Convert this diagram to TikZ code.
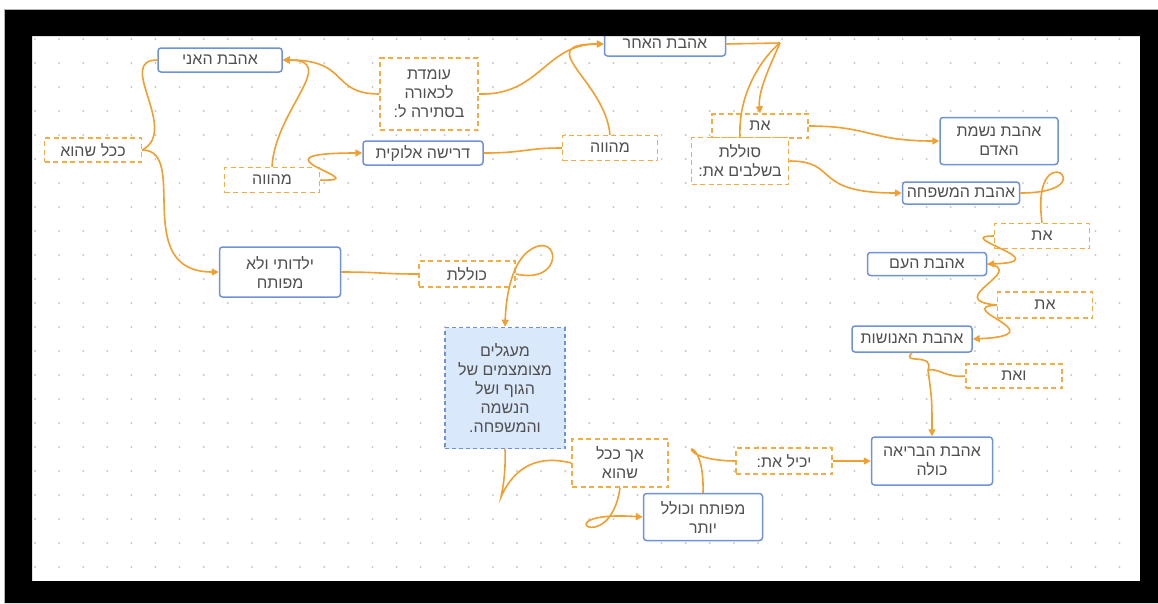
\documentclass[tikz,border=0pt]{standalone}
\usepackage{fontspec}
\newfontfamily\hebfont[Script=Hebrew]{Liberation Sans}
\TeXXeTstate=1
\usetikzlibrary{arrows.meta}
\definecolor{edgeor}{HTML}{F0A030}
\definecolor{dashor}{HTML}{F2AE45}
\definecolor{bluec}{HTML}{7093D8}
\definecolor{bluefill}{HTML}{DAE8FC}
\definecolor{txtc}{HTML}{505050}
\definecolor{dotc}{HTML}{C8C8C8}
\newcommand{\hb}[1]{\beginR #1\endR}
\begin{document}
\begin{tikzpicture}[x=1pt,y=-1pt,
  every node/.style={font=\hebfont\fontsize{16}{19}\selectfont, text=txtc, inner sep=0pt, align=center},
  bluebox/.style={draw=bluec, line width=1.5pt, rounded corners=3pt, fill=white},
  dbox/.style={draw=dashor, line width=1.5pt, dash pattern=on 5pt off 3.5pt, fill=white},
  fbox/.style={draw=bluec, line width=1.5pt, dash pattern=on 4pt off 3pt, fill=bluefill},
  conn/.style={draw=edgeor, line width=1.6pt},
  arr/.style={conn, -{Triangle[length=7pt,width=7pt]}}]
\useasboundingbox (0,0) rectangle (1158,603);
\fill[white] (0,0) rectangle (1158,603);
% dot grid
\foreach \i in {0,...,45}{\foreach \j in {0,...,22}{\fill[dotc] (35+24.1*\i,39+24*\j) circle (1.1);}}
% nodes
\node[bluebox, minimum width=124pt, minimum height=24pt] (ani) at (220,60) {\hb{אהבת האני}};
\node[dbox, minimum width=97pt, minimum height=24pt] (kkol) at (93,150) {\hb{ככל שהוא}};
\node[dbox, minimum width=95pt, minimum height=25pt] (mehave1) at (272,180) {\hb{מהווה}};
\node[dbox, minimum width=98pt, minimum height=72pt] (omedet) at (429,94) {\hb{עומדת}\\\hb{לכאורה}\\\hb{בסתירה ל:}};
\node[bluebox, minimum width=120pt, minimum height=24pt] (drisha) at (423,153) {\hb{דרישה אלוקית}};
\node[dbox, minimum width=95pt, minimum height=25pt] (mehave2) at (610,148) {\hb{מהווה}};
\node[bluebox, minimum width=121pt, minimum height=24pt] (acher) at (665,44) {\hb{אהבת האחר}};
\node[dbox, minimum width=96pt, minimum height=24pt] (et0) at (760,126) {\hb{את}};
\node[dbox, minimum width=97pt, minimum height=47pt] (solelet) at (740,161) {\hb{סוללת}\\\hb{בשלבים את:}};
\node[bluebox, minimum width=118pt, minimum height=47pt] (neshamat) at (999,141) {\hb{אהבת נשמת}\\\hb{האדם}};
\node[bluebox, minimum width=117pt, minimum height=22pt] (mishpacha) at (961,193) {\hb{אהבת המשפחה}};
\node[dbox, minimum width=95pt, minimum height=25pt] (et1) at (1042,236) {\hb{את}};
\node[bluebox, minimum width=119pt, minimum height=23pt] (am) at (927,264) {\hb{אהבת העם}};
\node[dbox, minimum width=95pt, minimum height=26pt] (et2) at (1045,305) {\hb{את}};
\node[bluebox, minimum width=120pt, minimum height=26pt] (enoshut) at (912,339) {\hb{אהבת האנושות}};
\node[dbox, minimum width=96pt, minimum height=24pt] (veet) at (1014,376) {\hb{ואת}};
\node[bluebox, minimum width=121pt, minimum height=48pt] (briah) at (932,461) {\hb{אהבת הבריאה}\\\hb{כולה}};
\node[dbox, minimum width=96pt, minimum height=26pt] (yachil) at (784,461) {\hb{יכיל את:}};
\node[bluebox, minimum width=119pt, minimum height=47pt] (mefutach) at (703,517) {\hb{מפותח וכולל}\\\hb{יותר}};
\node[dbox, minimum width=96pt, minimum height=48pt] (ach) at (620,463) {\hb{אך ככל}\\\hb{שהוא}};
\node[fbox, minimum width=120pt, minimum height=121pt] (maagalim) at (505,388) {\hb{מעגלים}\\\hb{מצומצמים של}\\\hb{הגוף ושל}\\\hb{הנשמה}\\\hb{והמשפחה.}};
\node[bluebox, minimum width=121pt, minimum height=50pt] (yaldoti) at (280,272) {\hb{ילדותי ולא}\\\hb{מפותח}};
\node[dbox, minimum width=96pt, minimum height=26pt] (kolelet) at (467,274) {\hb{כוללת}};
\coordinate (j1) at (780,43);
\coordinate (j2) at (928,370);
% connectors
\draw[conn] (ani.west) .. controls (115,60) and (180,130) .. (kkol.east);
\draw[arr] (kkol.east) .. controls (190,150) and (130,272) .. (yaldoti.west);
\draw[arr] (mehave1.north) .. controls (275,110) and (340,60) .. (ani.east);
\draw[arr] (omedet.west) .. controls (330,94) and (350,60) .. (ani.east);
\draw[arr] (mehave1.east) .. controls (380,182) and (240,153) .. (drisha.west);
\draw[conn] (drisha.east) .. controls (525,153) and (525,148) .. (mehave2.west);
\draw[arr] (mehave2.north) .. controls (605,80) and (530,44) .. (acher.west);
\draw[arr] (omedet.east) .. controls (540,96) and (545,44) .. (acher.west);
\draw[conn] (acher.east) -- (j1);
\draw[conn] (solelet.north) .. controls (738,90) and (765,55) .. (j1);
\draw[arr] (j1) .. controls (768,70) and (758,92) .. (et0.north);
\draw[arr] (et0.east) .. controls (870,126) and (870,141) .. (neshamat.west);
\draw[arr] (solelet.east) .. controls (840,161) and (810,193) .. (mishpacha.west);
\draw[conn] (mishpacha.east) .. controls (1110,193) and (1030,130) .. (et1.north);
\draw[arr] (et1.west) .. controls (950,236) and (1060,262) .. (am.east);
\draw[conn] (am.east) .. controls (1030,270) and (940,300) .. (et2.west);
\draw[arr] (et2.west) .. controls (950,308) and (1060,335) .. (enoshut.east);
\draw[conn] (enoshut.south) .. controls (900,365) and (935,352) .. (j2);
\draw[conn] (veet.west) .. controls (945,378) and (940,368) .. (j2);
\draw[arr] (j2) .. controls (932,400) .. (briah.north);
\draw[conn] (yaldoti.east) .. controls (380,272) and (380,274) .. (kolelet.west);
\draw[arr] (kolelet.east) .. controls (565,285) and (560,230) .. (530,250) .. controls (512,262) and (506,295) .. (maagalim.north);
\draw[conn] (maagalim.south) .. controls (506,475) and (502,492) .. (501,497) .. controls (515,465) and (540,455) .. (ach.west);
\draw[arr] (ach.south) .. controls (610,560) and (540,510) .. (mefutach.west);
\draw[conn] (mefutach.north) .. controls (705,420) and (660,460) .. (yachil.west);
\draw[arr] (yachil.east) -- (briah.west);
% frame
\fill[black, even odd rule] (4,9) rectangle (1158,603) (32,36) rectangle (1140,581);
\draw[gray!60, line width=0.6pt] (4,603) -- (4,9) -- (1158,9);
\end{tikzpicture}
\end{document}
